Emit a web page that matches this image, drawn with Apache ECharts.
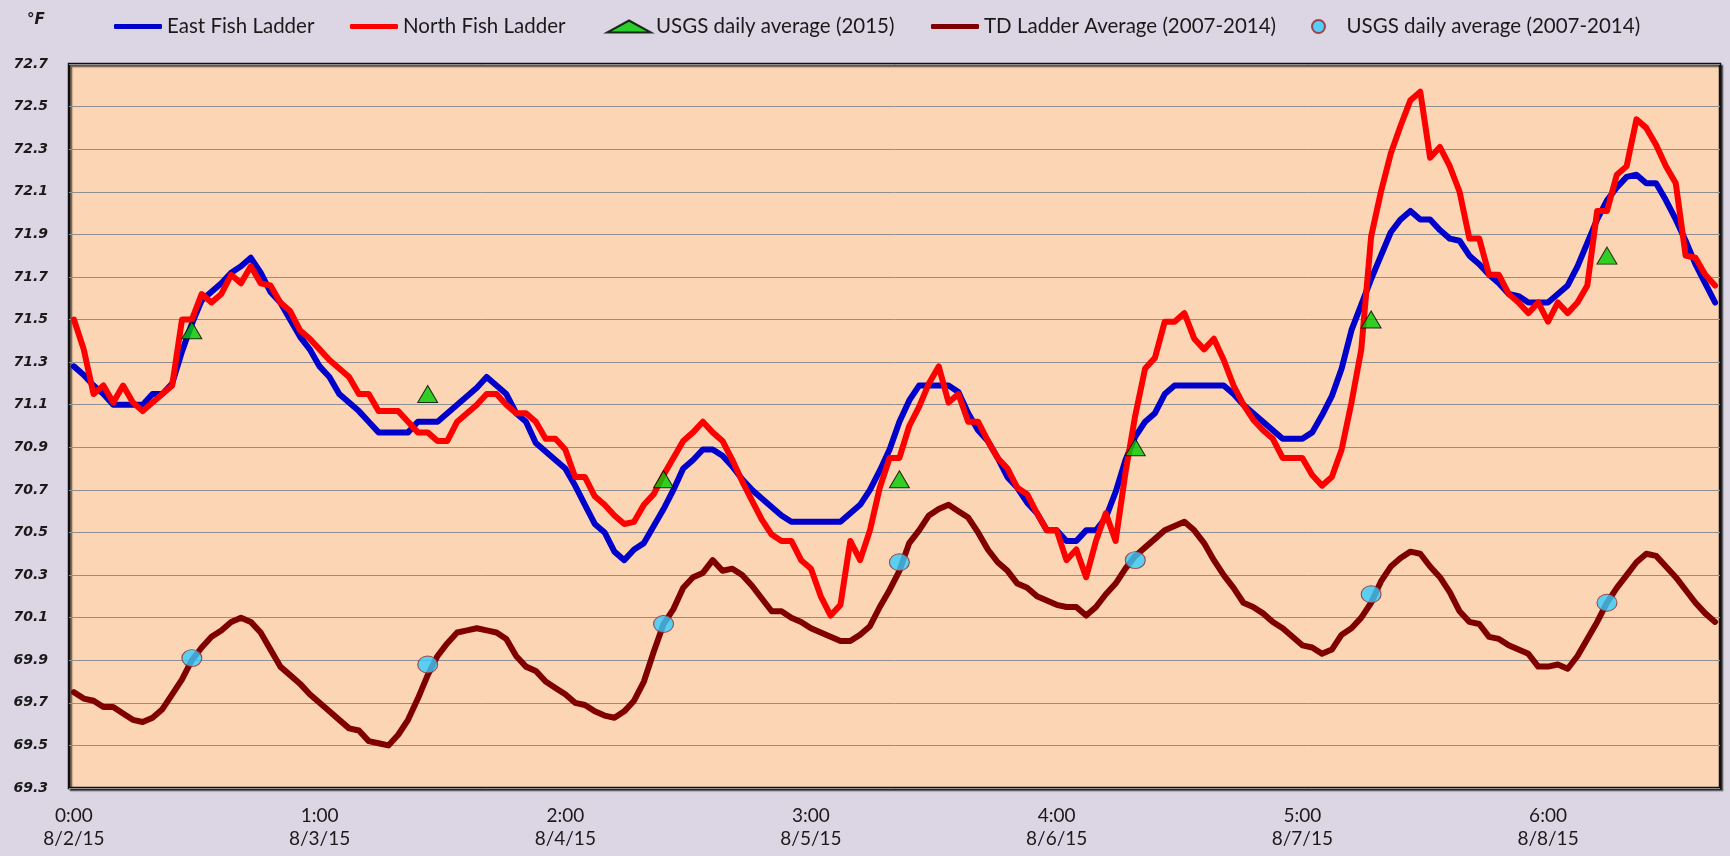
<!DOCTYPE html>
<html><head><meta charset="utf-8">
<script src="https://cdn.jsdelivr.net/npm/echarts@6/dist/echarts.min.js"></script>
<style>html,body{margin:0;padding:0;background:#DCD6E4;} #c{width:1730px;height:856px;}</style>
</head><body><div id="c"></div>
<script>
// Hourly readings, 8/2/15 0:00 through 8/8/15 23:00 (168 hours)
const eastFishLadder = [
 71.28, 71.24, 71.19, 71.15, 71.10, 71.10, 71.10, 71.10, 71.15, 71.15,
 71.20, 71.35, 71.48, 71.59, 71.63, 71.67, 71.72, 71.75, 71.79, 71.72,
 71.63, 71.58, 71.50, 71.42, 71.36, 71.28, 71.23, 71.15, 71.11, 71.07,
 71.02, 70.97, 70.97, 70.97, 70.97, 71.02, 71.02, 71.02, 71.06, 71.10,
 71.14, 71.18, 71.23, 71.19, 71.15, 71.06, 71.02, 70.92, 70.88, 70.84,
 70.80, 70.72, 70.63, 70.54, 70.50, 70.41, 70.37, 70.42, 70.45, 70.53,
 70.61, 70.70, 70.80, 70.84, 70.89, 70.89, 70.86, 70.81, 70.75, 70.70,
 70.66, 70.62, 70.58, 70.55, 70.55, 70.55, 70.55, 70.55, 70.55, 70.59,
 70.63, 70.70, 70.79, 70.89, 71.02, 71.12, 71.19, 71.19, 71.19, 71.19,
 71.16, 71.06, 70.98, 70.93, 70.85, 70.76, 70.71, 70.64, 70.59, 70.51,
 70.51, 70.46, 70.46, 70.51, 70.51, 70.57, 70.69, 70.84, 70.95, 71.02,
 71.06, 71.15, 71.19, 71.19, 71.19, 71.19, 71.19, 71.19, 71.15, 71.10,
 71.06, 71.02, 70.98, 70.94, 70.94, 70.94, 70.97, 71.05, 71.14, 71.27,
 71.45, 71.57, 71.69, 71.80, 71.91, 71.97, 72.01, 71.97, 71.97, 71.92,
 71.88, 71.87, 71.80, 71.76, 71.71, 71.67, 71.62, 71.61, 71.58, 71.58,
 71.58, 71.62, 71.66, 71.75, 71.86, 71.97, 72.06, 72.12, 72.17, 72.18,
 72.14, 72.14, 72.06, 71.97, 71.87, 71.76, 71.67, 71.58];

const northFishLadder = [
 71.50, 71.36, 71.15, 71.19, 71.11, 71.19, 71.11, 71.07, 71.11, 71.15,
 71.19, 71.50, 71.50, 71.62, 71.58, 71.62, 71.71, 71.67, 71.75, 71.67,
 71.66, 71.58, 71.54, 71.45, 71.41, 71.36, 71.31, 71.27, 71.23, 71.15,
 71.15, 71.07, 71.07, 71.07, 71.02, 70.97, 70.97, 70.93, 70.93, 71.02,
 71.06, 71.10, 71.15, 71.15, 71.10, 71.06, 71.06, 71.02, 70.94, 70.94,
 70.89, 70.76, 70.76, 70.67, 70.63, 70.58, 70.54, 70.55, 70.63, 70.68,
 70.77, 70.85, 70.93, 70.97, 71.02, 70.97, 70.93, 70.84, 70.74, 70.65,
 70.56, 70.49, 70.46, 70.46, 70.37, 70.33, 70.20, 70.11, 70.16, 70.46,
 70.37, 70.51, 70.71, 70.85, 70.85, 71.00, 71.09, 71.20, 71.28, 71.11,
 71.15, 71.02, 71.02, 70.93, 70.85, 70.80, 70.71, 70.68, 70.59, 70.51,
 70.51, 70.37, 70.42, 70.29, 70.46, 70.59, 70.46, 70.78, 71.05, 71.27,
 71.32, 71.49, 71.49, 71.53, 71.41, 71.36, 71.41, 71.31, 71.19, 71.10,
 71.03, 70.98, 70.94, 70.85, 70.85, 70.85, 70.77, 70.72, 70.76, 70.89,
 71.11, 71.36, 71.89, 72.10, 72.28, 72.41, 72.53, 72.57, 72.26, 72.31,
 72.22, 72.10, 71.88, 71.88, 71.71, 71.71, 71.62, 71.58, 71.53, 71.58,
 71.49, 71.58, 71.53, 71.58, 71.66, 72.01, 72.01, 72.18, 72.22, 72.44,
 72.40, 72.32, 72.22, 72.14, 71.80, 71.79, 71.71, 71.66];

const tdLadderAverage = [
 69.75, 69.72, 69.71, 69.68, 69.68, 69.65, 69.62, 69.61, 69.63, 69.67,
 69.74, 69.81, 69.90, 69.96, 70.01, 70.04, 70.08, 70.10, 70.08, 70.03,
 69.95, 69.87, 69.83, 69.79, 69.74, 69.70, 69.66, 69.62, 69.58, 69.57,
 69.52, 69.51, 69.50, 69.55, 69.62, 69.72, 69.83, 69.92, 69.98, 70.03,
 70.04, 70.05, 70.04, 70.03, 70.00, 69.92, 69.87, 69.85, 69.80, 69.77,
 69.74, 69.70, 69.69, 69.66, 69.64, 69.63, 69.66, 69.71, 69.80, 69.94,
 70.07, 70.14, 70.24, 70.29, 70.31, 70.37, 70.32, 70.33, 70.30, 70.25,
 70.19, 70.13, 70.13, 70.10, 70.08, 70.05, 70.03, 70.01, 69.99, 69.99,
 70.02, 70.06, 70.15, 70.23, 70.32, 70.45, 70.51, 70.58, 70.61, 70.63,
 70.60, 70.57, 70.50, 70.42, 70.36, 70.32, 70.26, 70.24, 70.20, 70.18,
 70.16, 70.15, 70.15, 70.11, 70.15, 70.21, 70.26, 70.33, 70.39, 70.43,
 70.47, 70.51, 70.53, 70.55, 70.51, 70.45, 70.37, 70.30, 70.24, 70.17,
 70.15, 70.12, 70.08, 70.05, 70.01, 69.97, 69.96, 69.93, 69.95, 70.02,
 70.05, 70.10, 70.17, 70.27, 70.34, 70.38, 70.41, 70.40, 70.34, 70.29,
 70.22, 70.13, 70.08, 70.07, 70.01, 70.00, 69.97, 69.95, 69.93, 69.87,
 69.87, 69.88, 69.86, 69.92, 70.00, 70.08, 70.17, 70.24, 70.30, 70.36,
 70.40, 70.39, 70.34, 70.29, 70.23, 70.17, 70.12, 70.08];

// Daily values, plotted at noon of each day
const usgsDaily2015 = [71.45, 71.15, 70.75, 70.75, 70.90, 71.50, 71.80];
const usgsDailyAvg = [69.91, 69.88, 70.07, 70.36, 70.37, 70.21, 70.17];
const dailyHourIndex = [12, 36, 60, 84, 108, 132, 156];

// Categories: hourly timestamps
const categories = [];
for (let i = 0; i < eastFishLadder.length; i++) {
  categories.push((i % 24) + ':00\n8/' + (2 + Math.floor(i / 24)) + '/15');
}

const yMin = 69.3, yMax = 72.7, yStep = 0.2;

const names = ['East Fish Ladder', 'North Fish Ladder', 'USGS daily average (2015)',
               'TD Ladder Average (2007-2014)', 'USGS daily average (2007-2014)'];
const C = {east: '#0000CC', north: '#FF0000', usgs15: '#00CC00', td: '#800000', usgsAvg: '#33CCFF'};

const legendText = {fontFamily: 'Lato', fontSize: 20.5, color: '#1a1a1a'};
function mkLegend(name, left, icon, w, h) {
  return {data: [{name: name, icon: icon}], left: left, top: 11, itemWidth: w, itemHeight: h,
          itemGap: 0, textStyle: legendText, selectedMode: false};
}

const chart = echarts.init(document.getElementById('c'), null, {renderer: 'canvas'});
chart.setOption({
  animation: false,
  backgroundColor: '#DCD6E4',
  title: {text: '°F', left: 22, top: 8,
          textStyle: {fontFamily: 'DejaVu Sans', fontWeight: 'bold', fontStyle: 'italic', fontSize: 15, color: '#1a1a1a'}},
  legend: [
    mkLegend(names[0], 109, 'roundRect', 48, 5),
    mkLegend(names[1], 345, 'roundRect', 48, 5),
    mkLegend(names[2], 601, 'triangle', 44, 12),
    mkLegend(names[3], 926, 'roundRect', 48, 5),
    mkLegend(names[4], 1306, 'circle', 46, 13)
  ],
  grid: {left: 69, right: 10, top: 64, bottom: 68, show: true, backgroundColor: '#FCD5B4',
         borderColor: '#111', borderWidth: 2.5,
         shadowColor: 'rgba(0,0,0,0.55)', shadowOffsetX: 2, shadowOffsetY: 2, shadowBlur: 1},
  xAxis: {
    type: 'category', data: categories, boundaryGap: true,
    axisLine: {show: false}, axisTick: {show: false},
    axisLabel: {interval: 24, margin: 16, lineHeight: 23,
                fontFamily: 'Lato', fontSize: 19, color: '#1a1a1a'},
    splitLine: {show: false}
  },
  yAxis: {
    type: 'value', min: yMin, max: yMax, interval: yStep,
    axisLine: {show: false}, axisTick: {show: false},
    axisLabel: {margin: 21, formatter: v => v.toFixed(1),
                fontFamily: 'DejaVu Sans', fontWeight: 'bold', fontStyle: 'italic', fontSize: 14, color: '#1a1a1a'},
    splitLine: {lineStyle: {color: '#8f8f8f', width: 1}}
  },
  series: [
    {name: names[0], type: 'line', data: eastFishLadder, showSymbol: false, color: C.east,
     lineStyle: {width: 6, color: C.east, join: 'round', cap: 'round'}, z: 2},
    {name: names[1], type: 'line', data: northFishLadder, showSymbol: false, color: C.north,
     lineStyle: {width: 6, color: C.north, join: 'round', cap: 'round'}, z: 3},
    {name: names[2], type: 'scatter', data: dailyHourIndex.map((h, k) => [h, usgsDaily2015[k]]),
     symbol: 'triangle', symbolSize: [20, 17], color: C.usgs15,
     itemStyle: {color: C.usgs15, borderColor: '#000', borderWidth: 1}, z: 6},
    {name: names[3], type: 'line', data: tdLadderAverage, showSymbol: false, color: C.td,
     lineStyle: {width: 6, color: C.td, join: 'round', cap: 'round'}, z: 4},
    {name: names[4], type: 'scatter', data: dailyHourIndex.map((h, k) => [h, usgsDailyAvg[k]]),
     symbol: 'circle', symbolSize: [20, 17], color: C.usgsAvg,
     itemStyle: {color: C.usgsAvg, borderColor: '#9a2020', borderWidth: 1}, z: 6}
  ]
});
</script></body></html>
